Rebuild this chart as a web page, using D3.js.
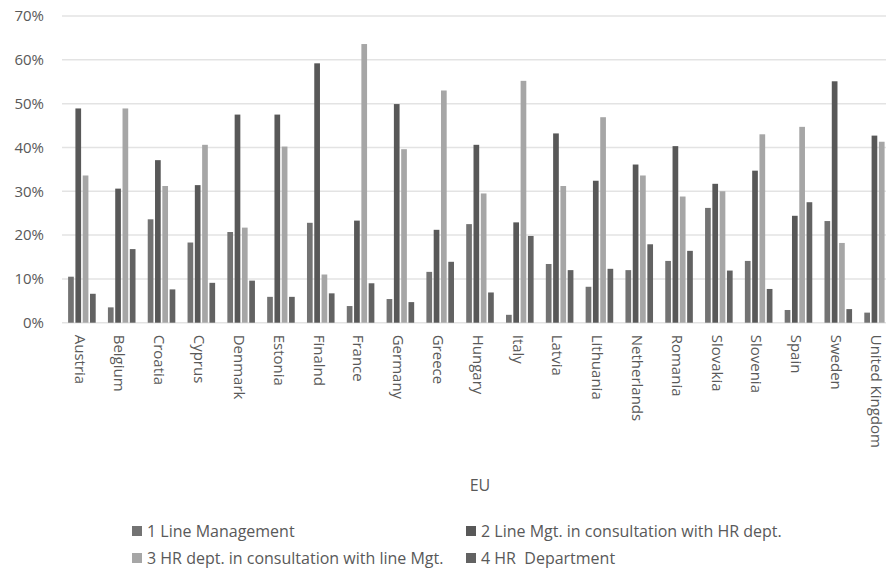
<!DOCTYPE html>
<html>
<head>
<meta charset="utf-8">
<script src="https://cdn.jsdelivr.net/npm/d3@7"></script>
<style>
  html, body { margin: 0; padding: 0; background: #ffffff; overflow: hidden; }
  text { font-family: "Open Sans", "DejaVu Sans", sans-serif; fill: #595959; }
</style>
</head>
<body>
<svg id="chart" width="886" height="569"></svg>
<script>
const countries = ["Austria","Belgium","Croatia","Cyprus","Denmark","Estonia","Finalnd","France","Germany","Greece","Hungary","Italy","Latvia","Lithuania","Netherlands","Romania","Slovakia","Slovenia","Spain","Sweden","United Kingdom"];
const seriesNames = ["1 Line Management","2 Line Mgt. in consultation with HR dept.","3 HR dept. in consultation with line Mgt.","4 HR  Department"];
const s1 = [10.5, 3.5, 23.6, 18.3, 20.7, 5.9, 22.8, 3.8, 5.4, 11.6, 22.5, 1.8, 13.4, 8.2, 12.0, 14.1, 26.2, 14.1, 2.9, 23.2, 2.3];
const s2 = [48.9, 30.6, 37.1, 31.4, 47.5, 47.5, 59.2, 23.3, 49.9, 21.2, 40.6, 22.9, 43.2, 32.4, 36.1, 40.3, 31.7, 34.7, 24.4, 55.1, 42.7];
const s3 = [33.6, 48.9, 31.2, 40.6, 21.7, 40.2, 11.0, 63.6, 39.6, 53.0, 29.5, 55.2, 31.2, 46.9, 33.6, 28.8, 30.0, 43.0, 44.7, 18.2, 41.3];
const s4 = [6.6, 16.8, 7.6, 9.1, 9.6, 5.9, 6.7, 9.0, 4.7, 13.9, 6.9, 19.8, 12.0, 12.3, 17.9, 16.4, 11.9, 7.7, 27.5, 3.1, 13.2];
const yTicks = [0, 10, 20, 30, 40, 50, 60, 70];
const xTitle = "EU";
const colors = ["#737373", "#585858", "#a6a6a6", "#626262"];

const seriesValues = [s1, s2, s3, s4];
const svg = d3.select("#chart");

const plotLeft = 62, plotRight = 898, plotTop = 16, plotBottom = 322.7;

const x0 = d3.scaleBand().domain(countries).range([plotLeft, plotRight]).paddingInner(0.307).paddingOuter(0.1535);
const x1 = d3.scaleBand().domain(d3.range(4)).range([0, x0.bandwidth()]).paddingInner(0.22);
const y = d3.scaleLinear().domain([0, 70]).range([plotBottom, plotTop]);

// gridlines
svg.append("g").selectAll("line").data(yTicks).join("line")
  .attr("x1", plotLeft).attr("x2", plotRight)
  .attr("y1", d => y(d)).attr("y2", d => y(d))
  .attr("stroke", "#e3e3e3").attr("stroke-width", 1.5);

// y axis labels
const yAxis = d3.axisLeft(y).tickValues(yTicks).tickFormat(d => d + "%").tickSize(0).tickPadding(0);
const gy = svg.append("g").attr("transform", `translate(${plotLeft - 18},0)`).call(yAxis);
gy.select(".domain").remove();
gy.selectAll("text").attr("font-size", 15).attr("fill", "#595959")
  .style("font-family", '"Open Sans", sans-serif');

// bars
const groups = svg.append("g").selectAll("g").data(countries).join("g")
  .attr("transform", d => `translate(${x0(d)},0)`);
groups.selectAll("rect").data((c, i) => seriesValues.map((s, k) => ({k, v: s[i]}))).join("rect")
  .attr("x", d => x1(d.k))
  .attr("width", x1.bandwidth())
  .attr("y", d => y(d.v))
  .attr("height", d => y(0) - y(d.v))
  .attr("fill", d => colors[d.k]);

// x axis labels
const xAxis = d3.axisBottom(x0).tickSize(0).tickPadding(0);
const gx = svg.append("g").attr("transform", `translate(0,${plotBottom})`).call(xAxis);
gx.select(".domain").remove();
gx.selectAll("text")
  .attr("font-size", 15).attr("fill", "#595959")
  .style("font-family", '"Open Sans", sans-serif')
  .attr("text-anchor", "start")
  .attr("dy", "0.35em")
  .attr("transform", "translate(-2,12) rotate(90)")
  .attr("y", 0).attr("x", 0);

// x title
svg.append("text").attr("x", 480).attr("y", 491).attr("text-anchor", "middle")
  .attr("font-size", 16).text(xTitle);

// legend
const legendPos = [[132, 531], [466, 531], [132, 558], [466, 558]];
const lg = svg.append("g").selectAll("g").data(seriesNames).join("g")
  .attr("transform", (d, i) => `translate(${legendPos[i][0]},${legendPos[i][1]})`);
lg.append("rect").attr("x", 0).attr("y", -5).attr("width", 10).attr("height", 10)
  .attr("fill", (d, i) => colors[i]);
lg.append("text").attr("x", 15).attr("y", 0).attr("dy", "0.35em")
  .style("white-space", "pre")
  .attr("font-size", 16).text(d => d);
</script>
</body>
</html>
